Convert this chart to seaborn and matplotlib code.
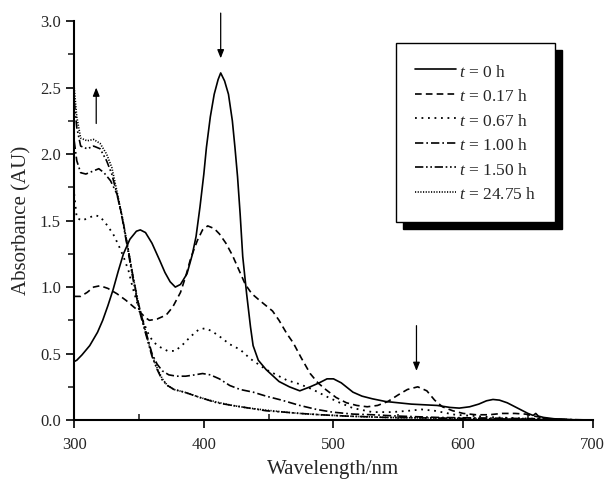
import pandas as pd
import seaborn as sns
import matplotlib.pyplot as plt
from matplotlib.patches import Rectangle
from matplotlib.ticker import MultipleLocator, FormatStrFormatter


# spectra: (wavelength nm, absorbance AU)
t0 = [(300, 0.44), (302, 0.45), (306, 0.49), (312, 0.56), (318, 0.66), (322, 0.75),
      (326, 0.86), (330, 0.98), (334, 1.12), (338, 1.25), (343, 1.36), (348, 1.42),
      (351, 1.43), (355, 1.41), (360, 1.33), (366, 1.20), (370, 1.11), (374, 1.04),
      (378, 1.00), (382, 1.02), (387, 1.10), (391, 1.24), (394, 1.38), (397, 1.60),
      (400, 1.85), (402, 2.05), (405, 2.28), (408, 2.45), (411, 2.56), (413, 2.61),
      (416, 2.55), (419, 2.45), (422, 2.25), (424, 2.05), (426, 1.83), (428, 1.55),
      (430, 1.23), (433, 0.95), (436, 0.70), (438, 0.56), (442, 0.45), (448, 0.38),
      (458, 0.29), (466, 0.25), (474, 0.22), (482, 0.25), (489, 0.28), (495, 0.31),
      (500, 0.31), (506, 0.28), (515, 0.21), (522, 0.18), (530, 0.16), (540, 0.14),
      (550, 0.13), (560, 0.12), (570, 0.115), (580, 0.11), (590, 0.095), (597, 0.09),
      (605, 0.10), (612, 0.12), (618, 0.145), (623, 0.155), (628, 0.15), (634, 0.13),
      (640, 0.10), (645, 0.075), (650, 0.05), (654, 0.035), (656, 0.05), (658, 0.03),
      (662, 0.02), (670, 0.01), (680, 0.005), (690, 0.0), (700, 0.0)]

t017 = [(300, 0.93), (305, 0.93), (310, 0.96), (315, 1.00), (320, 1.01), (326, 0.99),
        (333, 0.95), (340, 0.90), (346, 0.85), (351, 0.81), (355, 0.77), (358, 0.75),
        (364, 0.76), (371, 0.79), (376, 0.85), (382, 0.96), (386, 1.08), (390, 1.22),
        (395, 1.35), (399, 1.43), (403, 1.46), (408, 1.44), (412, 1.40), (417, 1.33),
        (422, 1.24), (427, 1.13), (432, 1.02), (437, 0.95), (443, 0.90), (448, 0.86),
        (453, 0.82), (458, 0.75), (464, 0.65), (469, 0.58), (475, 0.47), (482, 0.35),
        (488, 0.28), (494, 0.23), (502, 0.17), (510, 0.13), (518, 0.11), (526, 0.10),
        (534, 0.11), (542, 0.14), (550, 0.19), (557, 0.23), (565, 0.25), (572, 0.22),
        (578, 0.15), (584, 0.10), (592, 0.07), (600, 0.05), (610, 0.04), (620, 0.04),
        (630, 0.05), (640, 0.05), (648, 0.045), (655, 0.03), (665, 0.01), (680, 0.0),
        (700, 0.0)]

t067 = [(300, 1.70), (302, 1.52), (306, 1.50), (311, 1.52), (316, 1.54), (320, 1.53),
        (325, 1.47), (330, 1.40), (334, 1.32), (338, 1.23), (342, 1.12), (345, 1.00),
        (348, 0.90), (351, 0.80), (355, 0.70), (358, 0.63), (362, 0.58), (366, 0.55),
        (372, 0.52), (378, 0.52), (384, 0.57), (390, 0.63), (396, 0.68), (401, 0.69),
        (406, 0.67), (412, 0.63), (420, 0.57), (428, 0.53), (436, 0.46), (448, 0.38),
        (456, 0.34), (464, 0.30), (474, 0.27), (484, 0.23), (494, 0.18), (505, 0.13),
        (515, 0.09), (530, 0.06), (545, 0.06), (558, 0.07), (568, 0.08), (578, 0.07),
        (594, 0.04), (610, 0.03), (625, 0.02), (640, 0.015), (655, 0.01), (680, 0.0),
        (700, 0.0)]

t100 = [(300, 2.10), (302, 1.95), (305, 1.86), (309, 1.85), (314, 1.87), (319, 1.89),
        (323, 1.86), (328, 1.80), (333, 1.70), (337, 1.53), (341, 1.32), (345, 1.10),
        (349, 0.90), (352, 0.78), (356, 0.64), (360, 0.50), (364, 0.42), (368, 0.37),
        (373, 0.34), (379, 0.33), (386, 0.33), (393, 0.34), (399, 0.35), (405, 0.34),
        (412, 0.31), (420, 0.26), (428, 0.23), (438, 0.21), (448, 0.18), (460, 0.15),
        (474, 0.11), (487, 0.08), (499, 0.06), (515, 0.045), (530, 0.04), (550, 0.03),
        (580, 0.02), (620, 0.015), (660, 0.01), (700, 0.0)]

t150 = [(300, 2.40), (302, 2.20), (305, 2.06), (310, 2.04), (315, 2.06), (320, 2.04),
        (325, 1.95), (329, 1.85), (333, 1.70), (337, 1.52), (341, 1.30), (345, 1.08),
        (349, 0.88), (352, 0.76), (356, 0.62), (360, 0.48), (364, 0.38), (368, 0.30),
        (372, 0.26), (377, 0.23), (385, 0.21), (397, 0.17), (410, 0.13), (422, 0.11),
        (435, 0.09), (448, 0.07), (462, 0.06), (474, 0.05), (490, 0.04), (510, 0.03),
        (540, 0.02), (580, 0.015), (620, 0.01), (660, 0.005), (700, 0.0)]

t2475 = [(300, 2.50), (302, 2.28), (305, 2.12), (310, 2.10), (315, 2.11), (320, 2.08),
         (325, 2.00), (329, 1.90), (333, 1.72), (337, 1.53), (341, 1.32), (345, 1.10),
         (349, 0.90), (352, 0.78), (356, 0.63), (360, 0.49), (364, 0.39), (368, 0.31),
         (372, 0.26), (377, 0.23), (385, 0.21), (397, 0.17), (410, 0.135), (422, 0.11),
         (435, 0.09), (448, 0.075), (462, 0.06), (474, 0.05), (490, 0.04), (510, 0.03),
         (540, 0.02), (580, 0.015), (620, 0.01), (660, 0.005), (700, 0.0)]

labels = [r"$t$ = 0 h", r"$t$ = 0.17 h", r"$t$ = 0.67 h",
          r"$t$ = 1.00 h", r"$t$ = 1.50 h", r"$t$ = 24.75 h"]
series = [t0, t017, t067, t100, t150, t2475]

# arrows: (x, y_tail, y_head)
arrows = [(413, 3.06, 2.72), (317, 2.23, 2.50), (564, 0.71, 0.37)]

# esthetics
sns.set_style("ticks")
plt.rcParams["font.family"] = ["Liberation Serif", "DejaVu Serif"]
plt.rcParams["mathtext.fontset"] = "custom"
plt.rcParams["mathtext.rm"] = "Liberation Serif"
plt.rcParams["mathtext.it"] = "Liberation Serif:italic"

styles = [
    "-",
    (0, (4, 2.5)),
    (0, (1, 2.6)),
    (0, (5, 1.8, 1, 1.8)),
    (0, (5, 1.6, 1, 1.6, 1, 1.6)),
    (0, (0.7, 0.9)),
]
widths = [1.2, 1.2, 1.3, 1.2, 1.2, 1.2]

fig = plt.figure(figsize=(6.08, 4.79), dpi=100)
ax = fig.add_axes([0.122, 0.123, 0.853, 0.833])

for pts, lab, ls, lw in zip(series, labels, styles, widths):
    df = pd.DataFrame(pts, columns=["Wavelength", "Absorbance"])
    sns.lineplot(data=df, x="Wavelength", y="Absorbance", ax=ax, color="black",
                 linestyle=ls, linewidth=lw, label=lab, estimator=None, sort=False)

for x, y0, y1 in arrows:
    ax.annotate("", xy=(x, y1), xytext=(x, y0), annotation_clip=False,
                arrowprops=dict(arrowstyle="-|>,head_length=0.5,head_width=0.2",
                                color="black", lw=0.9,
                                mutation_scale=10, shrinkA=0, shrinkB=0))

ax.set_xlim(300, 700)
ax.set_ylim(0, 3.0)
ax.xaxis.set_major_locator(MultipleLocator(100))
ax.xaxis.set_minor_locator(MultipleLocator(50))
ax.yaxis.set_major_locator(MultipleLocator(0.5))
ax.yaxis.set_minor_locator(MultipleLocator(0.25))
ax.yaxis.set_major_formatter(FormatStrFormatter("%.1f"))
ax.tick_params(axis="both", which="major", labelsize=12, length=6, width=1.2,
               direction="out", color="black")
ax.tick_params(axis="y", which="minor", length=4, width=1.2, direction="out")
ax.tick_params(axis="x", which="minor", length=4, width=1.2, direction="in")
ax.tick_params(axis="x", pad=6)

sns.despine(ax=ax)
for s in ["left", "bottom"]:
    ax.spines[s].set_linewidth(1.5)
    ax.spines[s].set_color("black")

ax.set_xlabel("Wavelength/nm", fontsize=15, labelpad=5)
ax.set_ylabel("Absorbance (AU)", fontsize=15, labelpad=6)

leg = ax.legend(loc="upper left", bbox_to_anchor=(0.62, 0.945), fontsize=12.5,
                frameon=True, fancybox=False, edgecolor="black", framealpha=1,
                handlelength=2.4, handleheight=1.2, handletextpad=0.15,
                labelspacing=0.33, borderpad=1.1, borderaxespad=0)
leg.get_frame().set_linewidth(1.0)
leg.set_zorder(6)

# drop shadow behind the legend box
fig.canvas.draw()
bb = leg.get_frame().get_window_extent(fig.canvas.get_renderer())
bb = bb.transformed(ax.transAxes.inverted())
dx = 7 / (ax.bbox.width)
dy = 7 / (ax.bbox.height)
ax.add_patch(Rectangle((bb.x0 + dx, bb.y0 - dy), bb.width, bb.height,
                       transform=ax.transAxes, color="black", zorder=5,
                       clip_on=False))

fig.savefig("out.png", dpi=100)
plt.close()
